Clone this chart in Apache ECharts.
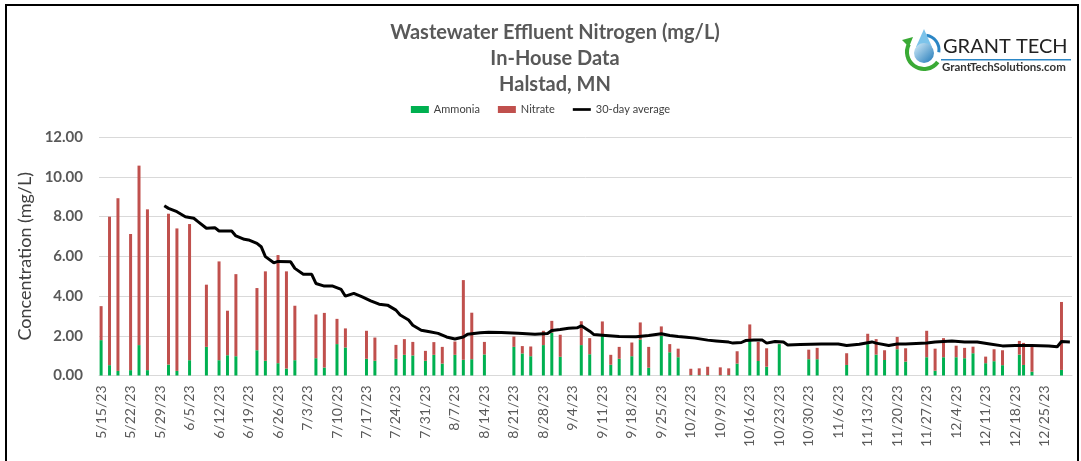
<!DOCTYPE html>
<html>
<head>
<meta charset="utf-8">
<script src="https://cdn.jsdelivr.net/npm/echarts@6/dist/echarts.min.js"></script>
<style>
  html, body { margin: 0; padding: 0; background: #fff; }
  #chart { width: 1081px; height: 461px; }
</style>
</head>
<body>
<div id="chart"></div>
<script>
// sample days (lab results), mg/L
var sampleDates = ['5/15/23','5/17/23','5/19/23','5/22/23','5/24/23','5/26/23','5/31/23','6/2/23','6/5/23','6/9/23',
  '6/12/23','6/14/23','6/16/23','6/21/23','6/23/23','6/26/23','6/28/23','6/30/23','7/5/23','7/7/23',
  '7/10/23','7/12/23','7/17/23','7/19/23','7/24/23','7/26/23','7/28/23','7/31/23','8/2/23','8/4/23',
  '8/7/23','8/9/23','8/11/23','8/14/23','8/21/23','8/23/23','8/25/23','8/28/23','8/30/23','9/1/23',
  '9/6/23','9/8/23','9/11/23','9/13/23','9/15/23','9/18/23','9/20/23','9/22/23','9/25/23','9/27/23',
  '9/29/23','10/2/23','10/4/23','10/6/23','10/9/23','10/11/23','10/13/23','10/16/23','10/18/23','10/20/23',
  '10/23/23','10/30/23','11/1/23','11/8/23','11/13/23','11/15/23','11/17/23','11/20/23','11/22/23','11/27/23',
  '11/29/23','12/1/23','12/4/23','12/6/23','12/8/23','12/11/23','12/13/23','12/15/23','12/19/23','12/20/23',
  '12/22/23','12/29/23'];

var ammonia = [1.78,0.52,0.23,0.27,1.53,0.27,0.55,0.23,0.77,1.44,
  0.77,1.02,0.97,1.27,0.74,0.62,0.35,0.77,0.87,0.40,
  1.58,1.41,0.84,0.74,0.84,1.04,1.01,0.74,1.04,0.60,
  1.04,0.79,0.82,1.06,1.44,1.11,0.97,1.53,2.16,0.94,
  1.53,1.07,2.01,0.54,0.84,0.97,1.81,0.39,2.01,1.17,
  0.92,0.02,0.02,0.02,0.02,0.02,0.60,1.79,0.73,0.44,
  1.58,0.82,0.82,0.53,1.58,1.05,0.78,1.32,0.70,0.92,
  0.24,0.92,0.92,0.87,1.12,0.62,0.72,0.52,1.05,0.53,
  0.19,0.28];

var nitrate = [1.71,7.47,8.69,6.85,9.03,8.09,7.59,7.17,6.85,3.13,
  4.97,2.24,4.13,3.13,4.50,5.44,4.89,2.74,2.20,2.75,
  1.27,0.96,1.41,1.17,0.70,0.79,0.68,0.50,0.64,0.84,
  0.67,4.01,2.34,0.63,0.52,0.37,0.49,0.72,0.59,1.11,
  1.20,0.81,0.71,0.50,0.60,0.69,0.86,1.05,0.46,0.41,
  0.43,0.32,0.34,0.42,0.39,0.34,0.62,0.78,0.96,0.93,
  0.02,0.48,0.57,0.59,0.52,0.78,0.49,0.62,0.67,1.33,
  1.11,0.96,0.58,0.52,0.33,0.33,0.60,0.75,0.69,1.11,
  1.28,3.42];

// 30-day rolling average
var avgDates = ['5/30/23','5/31/23','6/2/23','6/4/23','6/6/23','6/7/23','6/9/23','6/11/23','6/12/23','6/15/23',
  '6/16/23','6/18/23','6/19/23','6/21/23','6/22/23','6/23/23','6/25/23','6/26/23','6/29/23','6/30/23',
  '7/2/23','7/4/23','7/5/23','7/7/23','7/9/23','7/11/23','7/12/23','7/14/23','7/16/23','7/18/23',
  '7/20/23','7/22/23','7/24/23','7/25/23','7/27/23','7/28/23','7/30/23','8/1/23','8/3/23','8/5/23',
  '8/7/23','8/9/23','8/10/23','8/13/23','8/15/23','8/18/23','8/22/23','8/26/23','8/29/23','8/30/23',
  '9/1/23','9/3/23','9/5/23','9/6/23','9/8/23','9/9/23','9/11/23','9/15/23','9/19/23','9/22/23',
  '9/25/23','9/27/23','9/29/23','10/1/23','10/3/23','10/6/23','10/8/23','10/11/23','10/12/23','10/14/23',
  '10/15/23','10/17/23','10/19/23','10/20/23','10/22/23','10/24/23','10/25/23','10/28/23','11/2/23','11/6/23',
  '11/8/23','11/11/23','11/14/23','11/15/23','11/18/23','11/20/23','11/22/23','11/27/23','11/29/23','12/3/23',
  '12/6/23','12/9/23','12/12/23','12/15/23','12/18/23','12/22/23','12/26/23','12/28/23','12/29/23','12/31/23'];

var avgValues = [8.54,8.41,8.24,7.99,7.91,7.74,7.41,7.44,7.27,7.27,
  7.02,6.85,6.82,6.65,6.48,5.98,5.67,5.74,5.72,5.39,
  5.10,5.09,4.63,4.50,4.50,4.33,3.99,4.13,3.96,3.76,
  3.59,3.54,3.29,3.04,2.79,2.53,2.28,2.20,2.12,1.94,
  1.84,1.94,2.08,2.15,2.18,2.16,2.13,2.08,2.11,2.26,
  2.31,2.38,2.40,2.50,2.23,2.06,2.03,1.96,1.95,2.01,
  2.10,2.01,1.96,1.93,1.88,1.78,1.74,1.68,1.63,1.66,
  1.76,1.79,1.78,1.63,1.71,1.68,1.54,1.56,1.59,1.58,
  1.51,1.57,1.69,1.63,1.51,1.58,1.58,1.63,1.68,1.73,
  1.69,1.69,1.59,1.49,1.51,1.51,1.49,1.45,1.71,1.69];

// one category per calendar day, 5/15/23 .. 12/31/23
var days = [];
for (var i = 0; i < 231; i++) {
  var dt = new Date(2023, 4, 15 + i);
  days.push((dt.getMonth() + 1) + '/' + dt.getDate() + '/23');
}

var grey = '#595959';
var font = 'Lato, "Open Sans", sans-serif';

var chart = echarts.init(document.getElementById('chart'));

var option = {
  backgroundColor: '#fff',
  animation: false,
  textStyle: { fontFamily: font },
  title: {
    text: 'Wastewater Effluent Nitrogen (mg/L)\nIn-House Data\nHalstad, MN',
    left: 550,
    top: 15,
    textAlign: 'center',
    textStyle: { fontSize: 20, fontWeight: 'bold', color: grey, lineHeight: 26, fontFamily: font }
  },
  legend: {
    top: 99,
    left: 'center',
    itemWidth: 18,
    itemHeight: 7,
    itemGap: 18,
    textStyle: { fontSize: 11, color: '#404040' },
    data: [
      { name: 'Ammonia', icon: 'rect' },
      { name: 'Nitrate', icon: 'rect' },
      { name: '30-day average', icon: 'path://M0,0 L20,0 L20,3 L0,3 Z' }
    ]
  },
  grid: { left: 99, right: 9, top: 137, bottom: 85.5 },
  xAxis: {
    type: 'category',
    data: days,
    boundaryGap: true,
    axisLine: { lineStyle: { color: '#d9d9d9' } },
    axisTick: { show: false },
    axisLabel: {
      interval: 6,
      rotate: 90,
      fontSize: 14,
      color: grey,
      margin: 10
    }
  },
  yAxis: {
    type: 'value',
    min: 0,
    max: 12,
    interval: 2,
    name: 'Concentration (mg/L)',
    nameLocation: 'middle',
    nameGap: 58,
    nameTextStyle: { fontSize: 18, color: '#404040' },
    axisLine: { show: false },
    axisTick: { show: false },
    splitLine: { lineStyle: { color: '#d9d9d9' } },
    axisLabel: {
      formatter: function (v) { return v.toFixed(2); },
      fontSize: 15,
      fontWeight: 'bold',
      color: grey,
      margin: 16
    }
  },
  series: [
    {
      name: 'Ammonia',
      type: 'bar',
      stack: 'n',
      barWidth: 3,
      itemStyle: { color: '#00B050' },
      data: sampleDates.map(function (d, i) { return [d, ammonia[i]]; })
    },
    {
      name: 'Nitrate',
      type: 'bar',
      stack: 'n',
      barWidth: 3,
      itemStyle: { color: '#C0504D' },
      data: sampleDates.map(function (d, i) { return [d, nitrate[i]]; })
    },
    {
      name: '30-day average',
      type: 'line',
      symbol: 'none',
      lineStyle: { color: '#000', width: 3 },
      itemStyle: { color: '#000' },
      data: avgDates.map(function (d, i) { return [d, avgValues[i]]; }),
      z: 5
    }
  ],
  graphic: [
    // chart frame
    { type: 'rect', shape: { x: 6, y: 5, width: 1072, height: 470 },
      style: { fill: 'none', stroke: '#000', lineWidth: 2 }, silent: true },
    // logo: swooshes + drop
    { type: 'arc', shape: { cx: 924, cy: 52, r: 17, startAngle: Math.PI * 0.2, endAngle: Math.PI * 1.15 },
      style: { fill: 'none', stroke: '#3aaa35', lineWidth: 4 } },
    { type: 'polygon', shape: { points: [[902, 40], [913, 37], [909, 47]] },
      style: { fill: '#3aaa35' } },
    { type: 'arc', shape: { cx: 924, cy: 50, r: 15, startAngle: -Math.PI * 0.45, endAngle: Math.PI * 0.05 },
      style: { fill: 'none', stroke: '#2b86c5', lineWidth: 3 } },
    { type: 'polygon', shape: { points: [[924, 29], [916, 47], [932, 47]] },
      style: { fill: '#7cc3ea' } },
    { type: 'circle', shape: { cx: 924, cy: 53, r: 10 },
      style: { fill: { type: 'linear', x: 0, y: 0, x2: 1, y2: 1,
        colorStops: [{ offset: 0, color: '#d6eefa' }, { offset: 1, color: '#1f78b8' }] } } },
    { type: 'text', x: 943, y: 37,
      style: { text: 'GRANT TECH', fontSize: 20, fontFamily: font, fill: '#222' } },
    { type: 'rect', shape: { x: 941, y: 59, width: 130, height: 1.5 },
      style: { fill: '#2b86c5' } },
    { type: 'text', x: 942, y: 61,
      style: { text: 'GrantTechSolutions.com', fontSize: 11.5, fontWeight: 'bold', fontFamily: font, fill: '#333' } }
  ]
};

chart.setOption(option);
</script>
</body>
</html>
